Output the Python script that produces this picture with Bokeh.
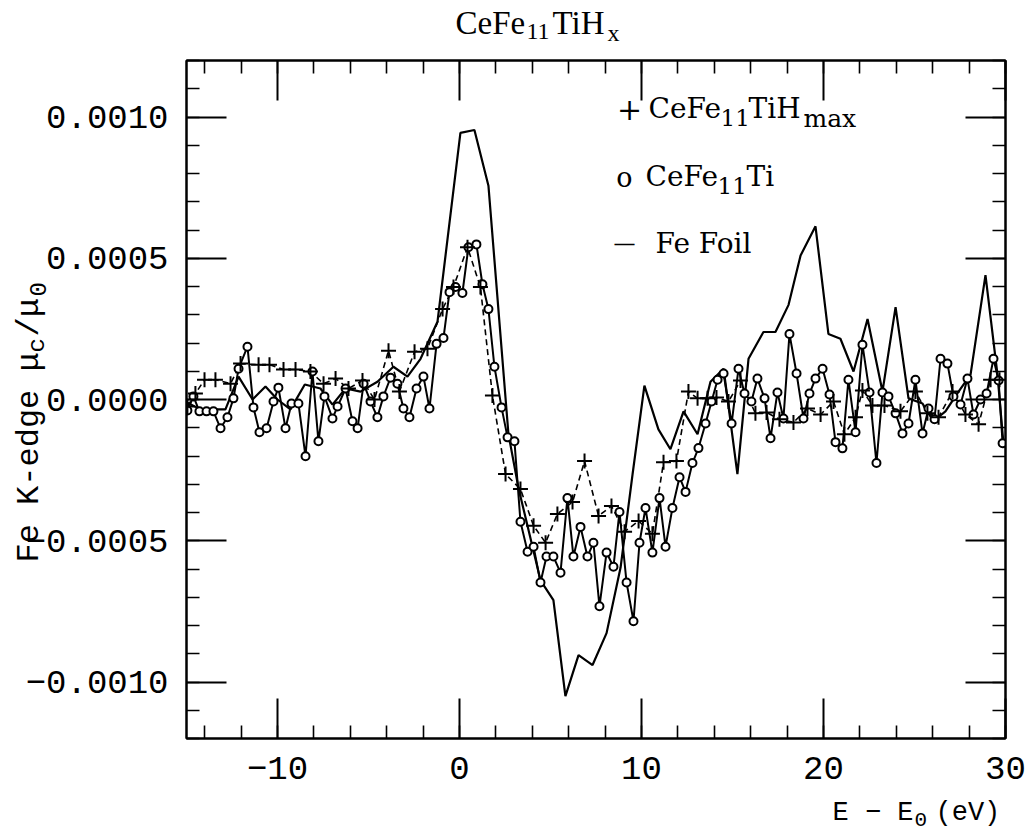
import math
from bokeh.plotting import figure
from bokeh.models import Label, LinearAxis, FixedTicker, CustomJSTickFormatter, Range1d, GridBox
from bokeh.embed import file_html
from bokeh.resources import INLINE

# ---------------- data (E - E0 in eV, mu_c/mu_0) ----------------
fe_E = [-15.0, -14.23, -13.52, -12.86, -12.14, -11.37, -10.66, -10.0, -9.29, -8.5,
        -7.64, -6.98, -6.26, -5.44, -4.51, -3.63, -2.86, -2.14, -1.21, 0.05,
        0.82, 1.59, 2.69, 3.24, 4.45, 5.16, 5.82, 6.54, 7.31, 8.08,
        8.85, 9.51, 10.16, 10.93, 11.59, 12.31, 13.08, 13.79, 14.51, 15.27,
        15.88, 16.70, 17.36, 18.08, 18.74, 19.56, 20.27, 20.93, 21.65, 22.42,
        23.24, 23.96, 24.67, 25.44, 26.04, 26.70, 27.42, 28.08, 28.90, 29.56, 29.89]
fe_mu = [-0.1e-4, -0.35e-4, -0.35e-4, -0.35e-4, 0.81e-4, 0.0, 0.46e-4, 0.0, -0.35e-4, 0.53e-4,
         0.39e-4, -0.18e-4, 0.39e-4, 0.28e-4, 0.63e-4, 1.16e-4, 0.81e-4, 1.44e-4, 2.75e-4, 9.44e-4,
         9.54e-4, 7.57e-4, -1.23e-4, -3.13e-4, -6.40e-4, -7.10e-4, -10.5e-4, -9.05e-4, -9.40e-4, -8.27e-4,
         -5.95e-4, -2.64e-4, 0.49e-4, -1.06e-4, -1.76e-4, -0.42e-4, -1.23e-4, 0.63e-4, 1.09e-4, -2.64e-4,
         1.44e-4, 2.39e-4, 2.39e-4, 3.35e-4, 5.10e-4, 6.13e-4, 2.32e-4, 2.15e-4, 0.99e-4, 2.85e-4,
         0.28e-4, 3.27e-4, 0.04e-4, -0.14e-4, -0.77e-4, -0.42e-4, 0.28e-4, 0.88e-4, 4.40e-4, 0.88e-4, -1.58e-4]

ti_E = [-14.95, -14.62, -14.29, -13.90, -13.52, -13.13, -12.75, -12.42, -12.14, -11.65,
        -11.32, -10.99, -10.60, -10.22, -9.95, -9.56, -9.23, -8.85, -8.46, -8.08,
        -7.75, -7.42, -6.98, -6.70, -6.26, -5.88, -5.60, -5.27, -4.89, -4.51,
        -4.18, -3.79, -3.41, -3.08, -2.75, -2.36, -1.98, -1.65, -1.26, -0.88,
        -0.55, -0.22, 0.16, 0.49, 0.93, 1.26, 1.59, 1.92, 2.31, 2.64,
        3.02, 3.35, 3.74, 4.07, 4.45, 4.78, 5.16, 5.55, 5.93, 6.26,
        6.65, 7.03, 7.36, 7.69, 8.08, 8.46, 8.79, 9.18, 9.56, 9.89,
        10.22, 10.60, 10.99, 11.32, 11.70, 12.09, 12.42, 12.80, 13.13, 13.52,
        13.85, 14.18, 14.51, 14.95, 15.33, 15.66, 16.04, 16.37, 16.76, 17.09,
        17.47, 17.80, 18.13, 18.52, 18.90, 19.23, 19.56, 19.95, 20.33, 20.66,
        21.04, 21.37, 21.76, 22.14, 22.53, 22.91, 23.24, 23.57, 23.96, 24.34,
        24.67, 25.05, 25.44, 25.77, 26.10, 26.43, 26.81, 27.14, 27.53, 27.91,
        28.24, 28.63, 28.96, 29.34, 29.62, 29.84]
ti_mu = [-0.39e-4, 0.11e-4, -0.42e-4, -0.42e-4, -0.42e-4, -1.02e-4, -0.63e-4, 0.04e-4, 1.09e-4, 1.87e-4,
         -0.28e-4, -1.16e-4, -1.02e-4, -0.07e-4, 0.42e-4, -1.02e-4, -0.14e-4, -0.14e-4, -2.01e-4, 0.99e-4,
         -1.48e-4, 0.11e-4, -0.67e-4, -0.25e-4, 0.39e-4, -0.77e-4, -1.02e-4, 0.56e-4, -0.07e-4, -0.63e-4,
         0.11e-4, 0.77e-4, 0.56e-4, -0.32e-4, -0.63e-4, 0.39e-4, 0.81e-4, -0.32e-4, 1.97e-4, 2.18e-4,
         3.80e-4, 3.98e-4, 3.77e-4, 5.39e-4, 5.49e-4, 4.08e-4, 3.20e-4, 1.16e-4, -0.28e-4, -1.34e-4,
         -1.48e-4, -4.33e-4, -5.39e-4, -5.21e-4, -6.48e-4, -5.56e-4, -5.56e-4, -6.13e-4, -3.49e-4, -5.56e-4,
         -4.51e-4, -5.56e-4, -5.07e-4, -7.32e-4, -5.42e-4, -5.92e-4, -3.98e-4, -6.48e-4, -7.85e-4, -5.07e-4,
         -3.84e-4, -5.42e-4, -3.49e-4, -5.21e-4, -3.84e-4, -2.75e-4, -3.27e-4, -2.25e-4, -1.72e-4, -0.85e-4,
         -0.07e-4, 0.70e-4, 0.92e-4, -0.85e-4, 1.09e-4, 0.21e-4, -0.07e-4, 0.74e-4, 0.04e-4, -1.37e-4,
         0.25e-4, -0.67e-4, 2.32e-4, 0.92e-4, -0.67e-4, 0.21e-4, 0.74e-4, 1.09e-4, 0.18e-4, -1.51e-4,
         -1.73e-4, 0.70e-4, -1.16e-4, 1.94e-4, 0.25e-4, -2.25e-4, 0.25e-4, 0.11e-4, -0.49e-4, -1.20e-4,
         -0.85e-4, 0.70e-4, -1.20e-4, -0.32e-4, -0.70e-4, 1.44e-4, 1.27e-4, 0.11e-4, -0.18e-4, 0.74e-4,
         -0.53e-4, 0.0, 0.21e-4, 1.44e-4, 0.67e-4, -1.55e-4]

h_E = [-14.95, -14.51, -14.01, -13.41, -12.58, -12.03, -11.04, -10.44, -9.67, -9.01,
       -8.19, -7.47, -6.81, -6.10, -5.33, -4.67, -3.90, -3.30, -2.47, -1.76,
       -0.93, -0.33, 0.44, 1.15, 1.81, 2.53, 3.35, 4.07, 4.73, 5.38,
       6.21, 6.87, 7.64, 8.35, 9.07, 9.84, 10.60, 11.21, 11.92, 12.58,
       13.08, 13.63, 14.12, 14.78, 15.44, 16.26, 16.87, 17.58, 18.35, 19.12,
       19.84, 20.55, 21.15, 21.76, 22.14, 22.69, 23.35, 24.23, 25.05, 25.71,
       26.32, 27.09, 27.80, 28.52, 29.18, 29.67]
h_mu = [-0.25e-4, 0.21e-4, 0.70e-4, 0.70e-4, 0.56e-4, 1.27e-4, 1.23e-4, 1.23e-4, 1.06e-4, 1.06e-4,
        0.99e-4, 0.56e-4, 0.74e-4, 0.39e-4, 0.67e-4, 0.0, 1.73e-4, 0.28e-4, 1.69e-4, 1.80e-4,
        3.20e-4, 3.98e-4, 5.39e-4, 3.98e-4, 0.14e-4, -2.64e-4, -3.17e-4, -4.47e-4, -5.07e-4, -4.05e-4,
        -3.63e-4, -2.18e-4, -4.12e-4, -3.77e-4, -4.68e-4, -4.30e-4, -4.75e-4, -2.22e-4, -2.18e-4, 0.28e-4,
        0.04e-4, 0.04e-4, 0.07e-4, -0.07e-4, 0.67e-4, -0.49e-4, -0.46e-4, -0.70e-4, -0.81e-4, -0.32e-4,
        -0.53e-4, -0.07e-4, -1.23e-4, -0.63e-4, 0.32e-4, -0.21e-4, -0.21e-4, -0.42e-4, 0.28e-4, -0.49e-4,
        -0.63e-4, 0.28e-4, -0.53e-4, -0.88e-4, 0.70e-4, 0.70e-4]

x_major = [-10, 0, 10, 20, 30]
x_minor = [-14, -12, -10, -8, -6, -4, -2, 0, 2, 4, 6, 8, 10, 12, 14, 16, 18, 20, 22, 24, 26, 28, 30]
y_major = [-0.0010, -0.0005, 0.0, 0.0005, 0.0010]
y_minor = [-0.0012, -0.0011, -0.0010, -0.0009, -0.0008, -0.0007, -0.0006, -0.0005, -0.0004, -0.0003,
           -0.0002, -0.0001, 0.0, 0.0001, 0.0002, 0.0003, 0.0004, 0.0005, 0.0006, 0.0007, 0.0008,
           0.0009, 0.0010, 0.0011, 0.0012]

# ---------------- main figure ----------------
FL, FB = 186, 738   # frame left / bottom in canvas pixels (layout)
p = figure(frame_width=819, frame_height=678,
           x_range=Range1d(-15, 30), y_range=Range1d(-0.0012, 0.0012),
           x_axis_type=None, y_axis_type=None,
           min_border_left=186, min_border_right=23, min_border_top=60, min_border_bottom=97,
           output_backend="svg", toolbar_location=None)
p.frame_align = False
p.background_fill_color = "white"
p.border_fill_color = "white"
p.outline_line_color = "black"
p.outline_line_width = 2
p.xgrid.visible = False
p.ygrid.visible = False

TICK_FONT = "Liberation Mono"

def style_axis(ax, major, minor, labels):
    ax.ticker = FixedTicker(ticks=major, minor_ticks=minor)
    ax.axis_line_color = "black"
    ax.axis_line_width = 2
    ax.major_tick_in = 40
    ax.major_tick_out = 0
    ax.minor_tick_in = 13
    ax.minor_tick_out = 0
    ax.major_tick_line_width = 2
    ax.minor_tick_line_width = 1.6
    ax.major_tick_line_color = "black"
    ax.minor_tick_line_color = "black"
    ax.major_label_text_font = TICK_FONT
    ax.major_label_text_font_size = "34px"
    ax.major_label_text_color = "black"
    if labels is None:
        ax.formatter = CustomJSTickFormatter(code="return '';")
        ax.major_label_standoff = 0
    else:
        ax.formatter = labels
        ax.major_label_standoff = 18

xfmt = CustomJSTickFormatter(code="return (tick < 0 ? '\u2212' : '') + Math.abs(tick).toFixed(0);")
yfmt = CustomJSTickFormatter(code="return (tick < -1e-12 ? '\u2212' : '') + Math.abs(tick).toFixed(4);")

xb = LinearAxis(); style_axis(xb, x_major, x_minor, xfmt); p.add_layout(xb, "below")
xt = LinearAxis(); style_axis(xt, x_major, x_minor, None); p.add_layout(xt, "above")
yl = LinearAxis(); style_axis(yl, y_major, y_minor, yfmt); p.add_layout(yl, "left")
yr = LinearAxis(); style_axis(yr, y_major, y_minor, None); p.add_layout(yr, "right")

# ---------------- series ----------------
p.line(fe_E, fe_mu, line_color="black", line_width=2.2)
p.line(h_E, h_mu, line_color="black", line_width=1.6, line_dash="6 4")
p.line(ti_E, ti_mu, line_color="black", line_width=2)
p.scatter(ti_E, ti_mu, marker="circle", size=8, line_color="black", line_width=2, fill_color="white")
p.scatter(h_E, h_mu, marker="cross", size=15, line_color="black", line_width=2)

# ---------------- legend (inside the frame) ----------------
def put(fig, text, cx, cy, size, font, align="left", angle=0.0, units="frame"):
    if units == "frame":
        x, y = cx - FL, FB - cy
        kw = dict(x_units="screen", y_units="screen")
    else:
        x, y = cx, cy
        kw = dict(x_units="data", y_units="data")
    fig.add_layout(Label(x=x, y=y, text=text, text_font=font, text_font_size=f"{size}px",
                         text_align=align, text_baseline="middle", angle=angle,
                         text_color="black", **kw))

LF = "DejaVu Serif"
put(p, "+", 629, 108, 30, LF, align="center")
put(p, "CeFe", 648, 108, 28, LF)
put(p, "11", 720, 117, 23, LF)
put(p, "TiH", 748, 108, 28, LF)
put(p, "max", 803, 118, 25, LF)
put(p, "o", 624, 177, 27, LF, align="center")
put(p, "CeFe", 645, 176, 28, LF)
put(p, "11", 717, 185, 23, LF)
put(p, "Ti", 746, 176, 28, LF)
put(p, "\u2014", 624, 243, 22, LF, align="center")
put(p, "Fe Foil", 655, 243, 28, LF)

# ---------------- transparent text layer over the whole page ----------------
W, H = 1028, 835
q = figure(width=W, height=H, x_range=Range1d(0, W), y_range=Range1d(H, 0),
           x_axis_type=None, y_axis_type=None,
           min_border_left=0, min_border_right=0, min_border_top=0, min_border_bottom=0,
           output_backend="svg", toolbar_location=None)
q.frame_align = False
q.background_fill_color = None
q.border_fill_color = None
q.outline_line_color = None
q.xgrid.visible = False
q.ygrid.visible = False

TF = "Liberation Serif"
put(q, "CeFe", 455, 22, 33, TF, units="page")
put(q, "11", 526, 31, 24, TF, units="page")
put(q, "TiH", 552, 22, 33, TF, units="page")
put(q, "x", 607, 32, 24, TF, units="page")

XF = "Liberation Mono"
put(q, "E \u2212 E", 832, 812, 27, XF, units="page")
put(q, "0", 914, 819, 21, XF, units="page")
put(q, "(eV)", 935, 812, 27, XF, units="page")

YA = math.pi / 2
put(q, "Fe K-edge", 29, 562, 32, XF, angle=YA, units="page")
put(q, "\u03bc", 29, 371, 32, XF, angle=YA, units="page")
put(q, "c", 37, 352, 24, XF, angle=YA, units="page")
put(q, "/\u03bc", 29, 336, 32, XF, angle=YA, units="page")
put(q, "0", 37, 296, 24, XF, angle=YA, units="page")

page = GridBox(children=[(p, 0, 0), (q, 0, 0)])
open("out.html", "w").write(file_html(page, INLINE))
